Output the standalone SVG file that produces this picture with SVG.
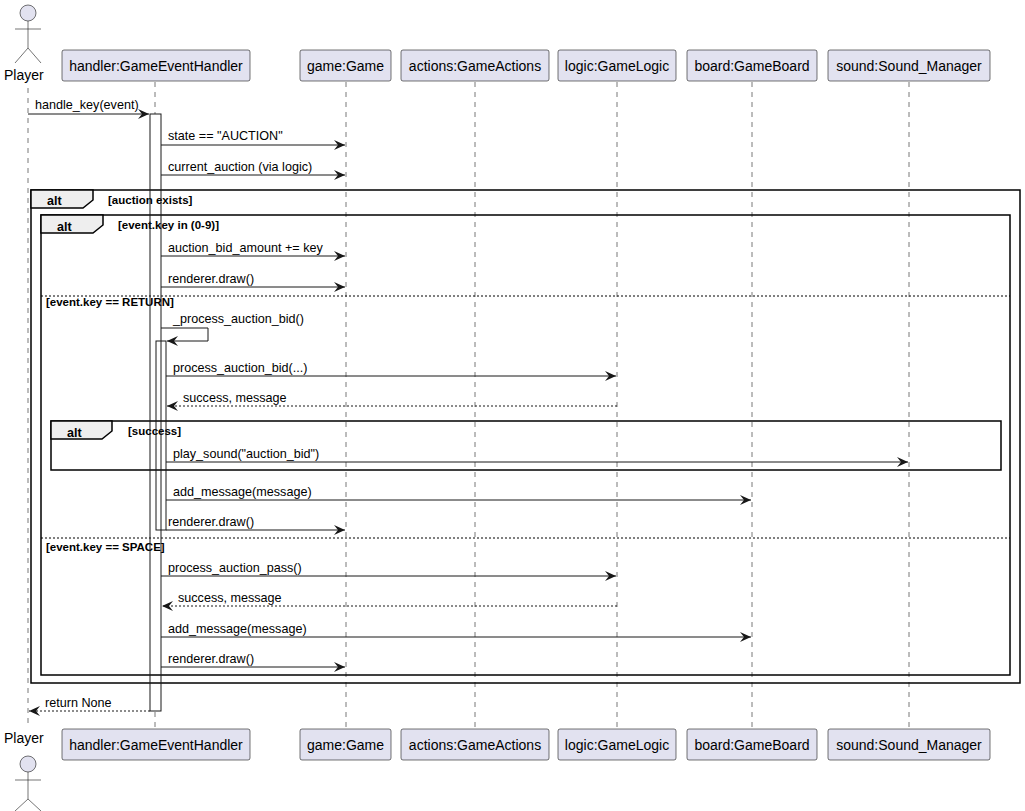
<svg xmlns="http://www.w3.org/2000/svg" width="1025" height="811" viewBox="0 0 1025 811">
<style>
text{font-family:"Liberation Sans",Arial,sans-serif;font-size:12.6px;fill:#000}
.pt{font-size:14px}
.b{font-weight:bold;font-size:11.5px}
.ll{stroke:#555;stroke-dasharray:5,5;stroke-width:0.8}
.box{fill:#E2E2F0;stroke:#181818;stroke-width:0.6}
.actbg{fill:#fff;stroke:none}
.act{fill:none;stroke:#181818;stroke-width:1}
.m{stroke:#181818;stroke-width:1;fill:none}
.d{stroke:#181818;stroke-width:1;fill:none;stroke-dasharray:2,2}
.fr{fill:none;stroke:#000;stroke-width:1.5}
.tab{fill:#EEE;stroke:#000;stroke-width:1.5}
.sep{stroke:#000;stroke-dasharray:2,2;stroke-width:1}
.actor{fill:#E2E2F0;stroke:#181818;stroke-width:0.6}
.aline{stroke:#181818;stroke-width:0.6;fill:none}
</style>
<defs>
<marker id="ar" markerWidth="12" markerHeight="10" refX="11" refY="5" orient="auto" markerUnits="userSpaceOnUse"><path d="M0,0 L11,5 L0,10 L4,5 Z" fill="#181818"/></marker>
</defs>
<g id="lifelines">
<line class="ll" x1="28" y1="88" x2="28" y2="728"/>
<line class="ll" x1="155" y1="82" x2="155" y2="728"/>
<line class="ll" x1="346" y1="82" x2="346" y2="728"/>
<line class="ll" x1="475" y1="82" x2="475" y2="728"/>
<line class="ll" x1="617" y1="82" x2="617" y2="728"/>
<line class="ll" x1="752" y1="82" x2="752" y2="728"/>
<line class="ll" x1="909" y1="82" x2="909" y2="728"/>
<rect class="actbg" x="150" y="114" width="11" height="597"/>
</g>
<g id="player">
<circle class="actor" cx="28" cy="13" r="8"/>
<path class="aline" d="M28,21 V48 M15,29 H41 M28,48 L15,63 M28,48 L41,63"/>
<text class="pt" x="4" y="80">Player</text>
<text class="pt" x="4" y="743">Player</text>
<circle class="actor" cx="28" cy="764" r="8"/>
<path class="aline" d="M28,772 V799 M15,780 H41 M28,799 L15,811 M28,799 L41,811"/>
</g>
<g id="handler"><rect class="box" x="62" y="50" width="188" height="31" rx="2"/><text x="156" y="71" text-anchor="middle" class="pt">handler:GameEventHandler</text>
<rect class="box" x="62" y="729" width="188" height="31" rx="2"/><text x="156" y="750" text-anchor="middle" class="pt">handler:GameEventHandler</text></g>
<g id="game"><rect class="box" x="300" y="50" width="91" height="31" rx="2"/><text x="345.5" y="71" text-anchor="middle" class="pt">game:Game</text>
<rect class="box" x="300" y="729" width="91" height="31" rx="2"/><text x="345.5" y="750" text-anchor="middle" class="pt">game:Game</text></g>
<g id="actions"><rect class="box" x="401" y="50" width="148" height="31" rx="2"/><text x="475" y="71" text-anchor="middle" class="pt">actions:GameActions</text>
<rect class="box" x="401" y="729" width="148" height="31" rx="2"/><text x="475" y="750" text-anchor="middle" class="pt">actions:GameActions</text></g>
<g id="logic"><rect class="box" x="558" y="50" width="118" height="31" rx="2"/><text x="617" y="71" text-anchor="middle" class="pt">logic:GameLogic</text>
<rect class="box" x="558" y="729" width="118" height="31" rx="2"/><text x="617" y="750" text-anchor="middle" class="pt">logic:GameLogic</text></g>
<g id="board"><rect class="box" x="687" y="50" width="130" height="31" rx="2"/><text x="752" y="71" text-anchor="middle" class="pt">board:GameBoard</text>
<rect class="box" x="687" y="729" width="130" height="31" rx="2"/><text x="752" y="750" text-anchor="middle" class="pt">board:GameBoard</text></g>
<g id="sound"><rect class="box" x="828" y="50" width="162" height="31" rx="2"/><text x="909" y="71" text-anchor="middle" class="pt">sound:Sound_Manager</text>
<rect class="box" x="828" y="729" width="162" height="31" rx="2"/><text x="909" y="750" text-anchor="middle" class="pt">sound:Sound_Manager</text></g>
<g id="frames">
<rect class="fr" x="31" y="190" width="989" height="493"/>
<path class="tab" d="M31,190 H93 V200 L83,208 H31 Z"/><text class="b" x="47" y="205" style="font-size:12.5px">alt</text>
<text class="b" x="108" y="204">[auction exists]</text>
<rect class="fr" x="41" y="215" width="969" height="460"/>
<path class="tab" d="M41,215 H103 V225 L93,233 H41 Z"/><text class="b" x="57" y="231" style="font-size:12.5px">alt</text>
<text class="b" x="118" y="229">[event.key in (0-9)]</text>
<line class="sep" x1="41" y1="296" x2="1010" y2="296"/>
<text class="b" x="46" y="306">[event.key == RETURN]</text>
<line class="sep" x1="41" y1="538" x2="1010" y2="538"/>
<text class="b" x="46" y="551">[event.key == SPACE]</text>
<rect class="fr" x="51" y="421" width="950" height="49"/>
<path class="tab" d="M51,421 H112 V431 L102,439 H51 Z"/><text class="b" x="67" y="437" style="font-size:12.5px">alt</text>
<text class="b" x="128" y="435">[success]</text>
</g>
<g id="activations">
<rect class="act" x="150" y="114" width="11" height="597"/>
<rect class="act" x="156" y="341" width="10" height="189"/>
</g>
<g id="connectors">
<line class="m" x1="28" y1="114" x2="149" y2="114" marker-end="url(#ar)"/><text x="35" y="109">handle_key(event)</text>
<line class="m" x1="161" y1="145" x2="345" y2="145" marker-end="url(#ar)"/><text x="168" y="140">state == "AUCTION"</text>
<line class="m" x1="161" y1="175" x2="345" y2="175" marker-end="url(#ar)"/><text x="168" y="171">current_auction (via logic)</text>
<line class="m" x1="161" y1="256" x2="345" y2="256" marker-end="url(#ar)"/><text x="168" y="252">auction_bid_amount += key</text>
<line class="m" x1="161" y1="287" x2="345" y2="287" marker-end="url(#ar)"/><text x="168" y="283">renderer.draw()</text>
<path class="m" d="M161,328 H208 V341 H167" marker-end="url(#ar)"/><text x="173" y="323">_process_auction_bid()</text>
<line class="m" x1="166" y1="376" x2="616" y2="376" marker-end="url(#ar)"/><text x="173" y="372">process_auction_bid(...)</text>
<line class="d" x1="617" y1="406" x2="167" y2="406" marker-end="url(#ar)"/><text x="183" y="402">success, message</text>
<line class="m" x1="166" y1="462" x2="908" y2="462" marker-end="url(#ar)"/><text x="173" y="458">play_sound("auction_bid")</text>
<line class="m" x1="166" y1="500" x2="751" y2="500" marker-end="url(#ar)"/><text x="173" y="496">add_message(message)</text>
<line class="m" x1="166" y1="530" x2="345" y2="530" marker-end="url(#ar)"/><text x="168" y="526">renderer.draw()</text>
<line class="m" x1="161" y1="576" x2="616" y2="576" marker-end="url(#ar)"/><text x="168" y="572">process_auction_pass()</text>
<line class="d" x1="617" y1="606" x2="162" y2="606" marker-end="url(#ar)"/><text x="178" y="602">success, message</text>
<line class="m" x1="161" y1="637" x2="751" y2="637" marker-end="url(#ar)"/><text x="168" y="633">add_message(message)</text>
<line class="m" x1="161" y1="667" x2="345" y2="667" marker-end="url(#ar)"/><text x="168" y="663">renderer.draw()</text>
<line class="d" x1="150" y1="711" x2="29" y2="711" marker-end="url(#ar)"/><text x="45" y="707">return None</text>
</g>
</svg>
